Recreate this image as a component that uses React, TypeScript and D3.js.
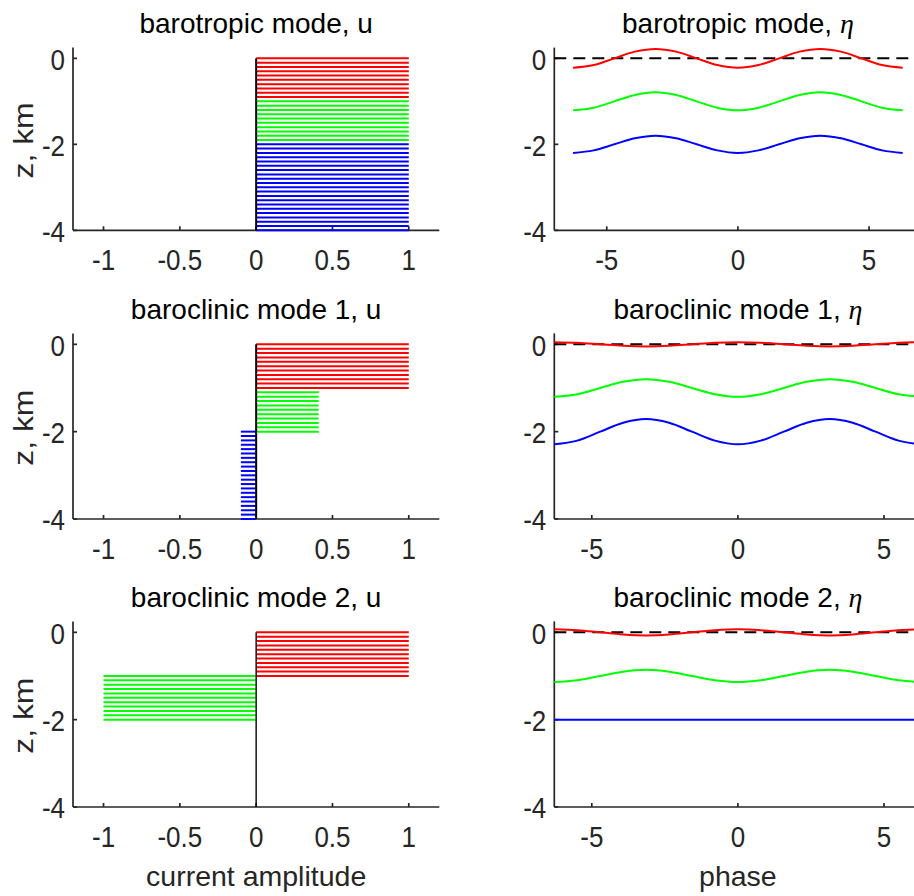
import React from "react";
import * as d3 from "d3";

// ---------------- data ----------------
const Z_LEVELS = [
  0, -0.1, -0.2, -0.3, -0.4, -0.5, -0.6, -0.7, -0.8, -0.9,
  -1.0, -1.1, -1.2, -1.3, -1.4, -1.5, -1.6, -1.7, -1.8, -1.9,
  -2.0, -2.1, -2.2, -2.3, -2.4, -2.5, -2.6, -2.7, -2.8, -2.9,
  -3.0, -3.1, -3.2, -3.3, -3.4, -3.5, -3.6, -3.7, -3.8, -3.9, -4.0,
];
const LAYER_COLORS = ["#ff0000", "#00ff00", "#0000ff"];

const U_TITLES = ["barotropic mode, u", "baroclinic mode 1, u", "baroclinic mode 2, u"];
const ETA_TITLES = ["barotropic mode, ", "baroclinic mode 1, ", "baroclinic mode 2, "];

// current amplitude per layer (red, green, blue)
const U_BAROTROPIC = [1, 1, 1];
const U_MODE1 = [1, 0.41, -0.1];
const U_MODE2 = [1, -1, 0];

// depth range (top, bottom) covered by each layer's lines
const LAYERS_BAROTROPIC = [[0, -0.9], [-1.0, -1.9], [-2.0, -4.0]];
const LAYERS_MODE1 = [[0, -1.0], [-1.1, -2.0], [-2.0, -4.0]];
const LAYERS_MODE2 = [[0, -1.0], [-1.0, -2.0], [-2.0, -4.0]];

// phase samples
const PHASE = [
  -6.283, -5.498, -4.712, -3.927, -3.142, -2.356, -1.571, -0.785, 0,
  0.785, 1.571, 2.356, 3.142, 3.927, 4.712, 5.498, 6.283,
];

// interface displacement eta
const ETA_BT_RED = [-0.22, -0.156, 0, 0.156, 0.22, 0.156, 0, -0.156, -0.22, -0.156, 0, 0.156, 0.22, 0.156, 0, -0.156, -0.22];
const ETA_BT_GREEN = [-1.21, -1.148, -1, -0.852, -0.79, -0.852, -1, -1.148, -1.21, -1.148, -1, -0.852, -0.79, -0.852, -1, -1.148, -1.21];
const ETA_BT_BLUE = [-2.2, -2.141, -2, -1.859, -1.8, -1.859, -2, -2.141, -2.2, -2.141, -2, -1.859, -1.8, -1.859, -2, -2.141, -2.2];

const ETA_M1_RED = [0.05, 0.035, 0, -0.035, -0.05, -0.035, 0, 0.035, 0.05, 0.035, 0, -0.035, -0.05, -0.035, 0, 0.035, 0.05];
const ETA_M1_GREEN = [-1.2, -1.141, -1, -0.859, -0.8, -0.859, -1, -1.141, -1.2, -1.141, -1, -0.859, -0.8, -0.859, -1, -1.141, -1.2];
const ETA_M1_BLUE = [-2.29, -2.205, -2, -1.795, -1.71, -1.795, -2, -2.205, -2.29, -2.205, -2, -1.795, -1.71, -1.795, -2, -2.205, -2.29];

const ETA_M2_RED = [0.07, 0.049, 0, -0.049, -0.07, -0.049, 0, 0.049, 0.07, 0.049, 0, -0.049, -0.07, -0.049, 0, 0.049, 0.07];
const ETA_M2_GREEN = [-1.14, -1.099, -1, -0.901, -0.86, -0.901, -1, -1.099, -1.14, -1.099, -1, -0.901, -0.86, -0.901, -1, -1.099, -1.14];
const ETA_M2_BLUE = [-2, -2, -2, -2, -2, -2, -2, -2, -2, -2, -2, -2, -2, -2, -2, -2, -2];

const U_TICKS = [-1, -0.5, 0, 0.5, 1];
const PHASE_TICKS = [-5, 0, 5];
const Z_TICKS = [0, -2, -4];
const Z_DOMAIN = [-4, 0.25];
const U_DOMAIN = [-1.2, 1.2];
const PHASE_DOMAINS = [[-7, 7], [-6.2832, 6.2832], [-6.2832, 6.2832]];

// ---------------- layout ----------------
const W = 914;
const H = 896;
const LEFT_X = [73, 439.3];
const RIGHT_X = [554.3, 921.5];
const ROWS = [
  { top: 47.6, bottom: 230.3 },
  { top: 333.4, bottom: 519 },
  { top: 621.4, bottom: 807 },
];
const AXIS_COLOR = "#262626";
const SANS = "'Liberation Sans', Arial, Helvetica, sans-serif";
const SERIF = "'Liberation Serif', 'DejaVu Serif', serif";
const TICK_FS = 26;
const TICK_STRETCH = 1.12;
const LABEL_FS = 28;
const TICK_LEN = 4;

const U_DATA = [U_BAROTROPIC, U_MODE1, U_MODE2];
const LAYER_DATA = [LAYERS_BAROTROPIC, LAYERS_MODE1, LAYERS_MODE2];
const ETA_DATA = [
  [ETA_BT_RED, ETA_BT_GREEN, ETA_BT_BLUE],
  [ETA_M1_RED, ETA_M1_GREEN, ETA_M1_BLUE],
  [ETA_M2_RED, ETA_M2_GREEN, ETA_M2_BLUE],
];

function Axes({ x, y, xTicks }: { x: d3.ScaleLinear<number, number>; y: d3.ScaleLinear<number, number>; xTicks: number[] }) {
  const [x0, x1] = x.range();
  const [yb, yt] = y.range();
  return (
    <g>
      <line x1={x0} x2={x1} y1={yb} y2={yb} stroke={AXIS_COLOR} strokeWidth={1.7} />
      <line x1={x0} x2={x0} y1={yb} y2={yt} stroke={AXIS_COLOR} strokeWidth={1.7} />
      {xTicks.map((t) => (
        <g key={"xt" + t}>
          <line x1={x(t)} x2={x(t)} y1={yb} y2={yb - TICK_LEN} stroke={AXIS_COLOR} strokeWidth={1.7} />
          <g transform={`translate(${x(t)},${yb + 39.5}) scale(1,${TICK_STRETCH})`}>
            <text x={0} y={0} textAnchor="middle" fontSize={TICK_FS} fontFamily={SANS} fill={AXIS_COLOR}>
              {String(t)}
            </text>
          </g>
        </g>
      ))}
      {Z_TICKS.map((t) => (
        <g key={"yt" + t}>
          <line x1={x0} x2={x0 + TICK_LEN} y1={y(t)} y2={y(t)} stroke={AXIS_COLOR} strokeWidth={1.7} />
          <g transform={`translate(${x0 - 8},${y(t) + 1}) scale(1,${TICK_STRETCH})`}>
            <text x={0} y={0} dy="0.35em" textAnchor="end" fontSize={TICK_FS} fontFamily={SANS} fill={AXIS_COLOR}>
              {String(t)}
            </text>
          </g>
        </g>
      ))}
    </g>
  );
}

function UPanel({ row }: { row: number }) {
  const { top, bottom } = ROWS[row];
  const x = d3.scaleLinear().domain(U_DOMAIN).range(LEFT_X);
  const y = d3.scaleLinear().domain(Z_DOMAIN).range([bottom, top]);
  const u = U_DATA[row];
  const layers = LAYER_DATA[row];
  const segs: { z: number; li: number }[] = [];
  layers.forEach((rng, li) => {
    Z_LEVELS.forEach((z) => {
      if (z <= rng[0] + 1e-6 && z >= rng[1] - 1e-6) segs.push({ z, li });
    });
  });
  const cx = (LEFT_X[0] + LEFT_X[1]) / 2;
  return (
    <g>
      <Axes x={x} y={y} xTicks={U_TICKS} />
      {segs.map((s, i) => (
        <line key={i} x1={x(0)} x2={x(u[s.li])} y1={y(s.z)} y2={y(s.z)} stroke={LAYER_COLORS[s.li]} strokeWidth={2} />
      ))}
      <line x1={x(0)} x2={x(0)} y1={y(0)} y2={y(-4)} stroke="#000" strokeWidth={row === 2 ? 1.4 : 2} />
      <text x={x(0)} y={top - 14.5} textAnchor="middle" fontSize={LABEL_FS} fontFamily={SANS} fill="#000">
        {U_TITLES[row]}
      </text>
      <g transform={`translate(32.5,${(top + bottom) / 2 + 1.5}) rotate(-90) scale(1.14,1)`}>
        <text x={0} y={0} textAnchor="middle" fontSize={LABEL_FS} fontFamily={SANS} fill={AXIS_COLOR}>
          z, km
        </text>
      </g>
      {row === 2 && (
        <text x={cx} y={886} textAnchor="middle" fontSize={28.5} fontFamily={SANS} fill={AXIS_COLOR}>
          current amplitude
        </text>
      )}
    </g>
  );
}

function EtaPanel({ row }: { row: number }) {
  const { top, bottom } = ROWS[row];
  const x = d3.scaleLinear().domain(PHASE_DOMAINS[row]).range(RIGHT_X);
  const y = d3.scaleLinear().domain(Z_DOMAIN).range([bottom, top]);
  const line = d3
    .line<number>()
    .x((_, i) => x(PHASE[i]))
    .y((d) => y(d))
    .curve(d3.curveMonotoneX);
  const cx = (RIGHT_X[0] + RIGHT_X[1]) / 2;
  const dom = x.domain();
  return (
    <g>
      <Axes x={x} y={y} xTicks={PHASE_TICKS} />
      <line x1={x(dom[0])} x2={x(dom[1])} y1={y(0)} y2={y(0)} stroke="#000" strokeWidth={2} strokeDasharray="12 7" />
      {ETA_DATA[row].map((vals, li) => (
        <path key={li} d={line(vals) || ""} fill="none" stroke={LAYER_COLORS[li]} strokeWidth={2} />
      ))}
      <text x={cx} y={top - 14.5} textAnchor="middle" fontSize={LABEL_FS} fontFamily={SANS} fill="#000">
        {ETA_TITLES[row]}
        <tspan fontFamily={SERIF} fontStyle="italic">η</tspan>
      </text>
      {row === 2 && (
        <text x={cx} y={886} textAnchor="middle" fontSize={28.5} fontFamily={SANS} fill={AXIS_COLOR}>
          phase
        </text>
      )}
    </g>
  );
}

export default function App() {
  return (
    <svg
      width={W}
      height={H}
      viewBox={`0 0 ${W} ${H}`}
      style={{ position: "absolute", left: 0, top: 0, background: "#fff", overflow: "hidden" }}
    >
      <rect x={0} y={0} width={W} height={H} fill="#fff" />
      {[0, 1, 2].map((r) => (
        <g key={r}>
          <UPanel row={r} />
          <EtaPanel row={r} />
        </g>
      ))}
    </svg>
  );
}
